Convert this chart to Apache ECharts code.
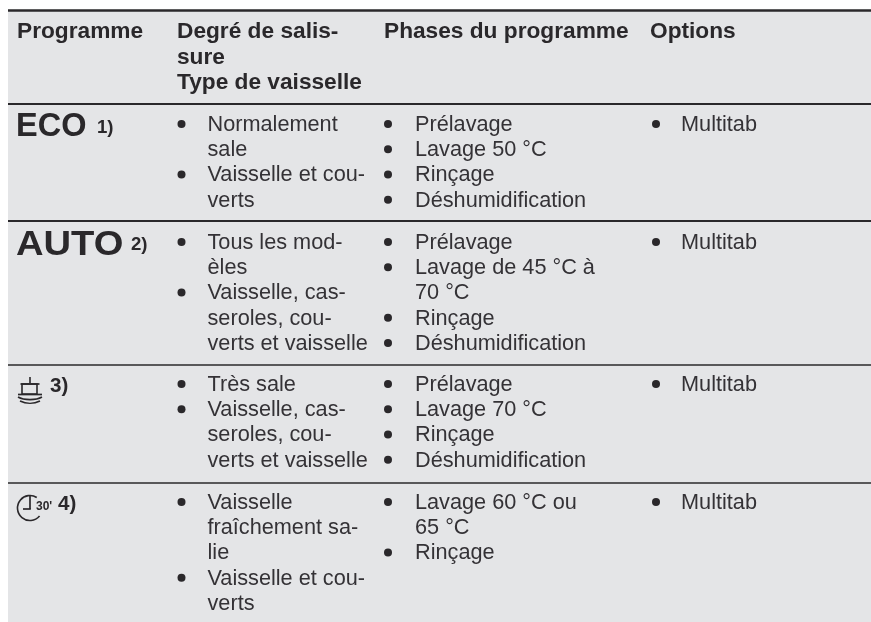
<!DOCTYPE html>
<html><head><meta charset="utf-8">
<style>html,body{margin:0;padding:0;background:#fff}#c{width:871px;height:622px}</style>
<script src="https://cdn.jsdelivr.net/npm/echarts@6/dist/echarts.min.js"></script></head>
<body><div id="c"></div>
<script>
// ---------- content ----------
const headers = [["Programme"], ["Degré de salis-", "sure", "Type de vaisselle"], ["Phases du programme"], ["Options"]];
const programmes = ["ECO", "AUTO", "", ""];
const notes = ["1)", "2)", "3)", "4)"];
const soiling = [
  [["Normalement", "sale"], ["Vaisselle et cou-", "verts"]],
  [["Tous les mod-", "èles"], ["Vaisselle, cas-", "seroles, cou-", "verts et vaisselle"]],
  [["Très sale"], ["Vaisselle, cas-", "seroles, cou-", "verts et vaisselle"]],
  [["Vaisselle", "fraîchement sa-", "lie"], ["Vaisselle et cou-", "verts"]]
];
const phases = [
  [["Prélavage"], ["Lavage 50 °C"], ["Rinçage"], ["Déshumidification"]],
  [["Prélavage"], ["Lavage de 45 °C à", "70 °C"], ["Rinçage"], ["Déshumidification"]],
  [["Prélavage"], ["Lavage 70 °C"], ["Rinçage"], ["Déshumidification"]],
  [["Lavage 60 °C ou", "65 °C"], ["Rinçage"]]
];
const options = [["Multitab"], ["Multitab"], ["Multitab"], ["Multitab"]];

// ---------- layout ----------
const W = 871, H = 622, INK = '#2a282b', SOFT = '#343236';
const ruleY = [10.5, 104, 221, 365, 483];
const firstLine = [125, 243, 385, 503];
const LH = 25.25;
const FS = 21.7, FB = 22.7;
const headX = [17, 177, 384, 650];
const cols = [{b: 181.5, t: 207.5}, {b: 388, t: 415}, {b: 656, t: 681}];
const font = 'Liberation Sans, Arial, sans-serif';

const items = [];
headers.forEach((lines, c) => lines.forEach((s, i) =>
  items.push({k: 'text', x: headX[c], y: 32 + i * LH, s, size: FB, weight: 'bold', fill: INK})));
function cell(r, col, list) {
  let n = 0;
  list.forEach(lines => {
    items.push({k: 'dot', x: col.b, y: firstLine[r] - 1 + n * LH});
    lines.forEach(s => { items.push({k: 'text', x: col.t, y: firstLine[r] + n * LH, s, size: FS, weight: 'normal', fill: SOFT}); n++; });
  });
}
soiling.forEach((l, r) => cell(r, cols[0], l));
phases.forEach((l, r) => cell(r, cols[1], l));
options.forEach((l, r) => cell(r, cols[2], [l]));
const progY = [127, 245];
const progSize = [33.5, 35];
const progStretch = [0.97, 1.09];
programmes.forEach((s, r) => { if (s) items.push({k: 'text', x: 16, y: progY[r], s, size: progSize[r], weight: 'bold', fill: INK, sx: progStretch[r]}); });
const noteX = [97, 131, 50, 58];
const noteY = [127.5, 245, 386.5, 504.5];
const noteSize = [18.6, 18.6, 20.6, 20.6];
notes.forEach((s, r) => items.push({k: 'text', x: noteX[r], y: noteY[r], s, size: noteSize[r], weight: 'bold', fill: INK}));
items.push({k: 'pot', x: 17, y: 375});
items.push({k: 'clock', x: 17, y: 493});
ruleY.forEach((y, i) => items.push({k: 'rule', y, w: i === 0 ? 2.5 : i === 3 || i === 4 ? 1.6 : 2}));

function renderItem(params, api) {
  const it = items[api.value(0)];
  const p = api.coord([it.x || 0, it.y || 0]);
  const line = (a, b, c, d, w) => ({type: 'line', shape: {x1: p[0] + a, y1: p[1] + b, x2: p[0] + c, y2: p[1] + d}, style: {stroke: INK, lineWidth: w || 1.7, fill: null}});
  const curve = (a, b, c, d, e) => ({type: 'bezierCurve', shape: {x1: p[0] + a, y1: p[1] + b, cpx1: p[0] + a + 6, cpy1: p[1] + e, cpx2: p[0] + c - 6, cpy2: p[1] + e, x2: p[0] + c, y2: p[1] + d}, style: {stroke: INK, lineWidth: 1.6, fill: null}});
  if (it.k === 'text') return {type: 'text', x: p[0], y: p[1], scaleX: it.sx || 1, style: {x: 0, y: 0, text: it.s, fill: it.fill, font: `${it.weight} ${it.size}px ${font}`, textAlign: 'left', textVerticalAlign: 'middle'}};
  if (it.k === 'dot') return {type: 'circle', shape: {cx: p[0], cy: p[1], r: 4}, style: {fill: INK}};
  if (it.k === 'rule') { const a = api.coord([8, it.y]), b = api.coord([W, it.y]); return {type: 'line', shape: {x1: a[0], y1: a[1], x2: b[0], y2: b[1]}, style: {stroke: INK, lineWidth: it.w}}; }
  if (it.k === 'pot') return {type: 'group', children: [
    {type: 'rect', shape: {x: p[0] + 5, y: p[1] + 9, width: 15, height: 10}, style: {stroke: INK, lineWidth: 1.6, fill: null}},
    line(3.5, 9, 22.5, 9), line(13, 2, 13, 8, 1.6), line(1, 19.5, 25, 19.5),
    curve(1, 22, 25, 22, 25.5), curve(3, 26, 23, 26, 29)
  ]};
  if (it.k === 'clock') return {type: 'group', children: [
    {type: 'arc', shape: {cx: p[0] + 13, cy: p[1] + 15, r: 12.5, startAngle: 0.7, endAngle: -1.0, clockwise: true}, style: {stroke: INK, lineWidth: 1.6, fill: null}},
    line(13, 2, 13, 16), line(6, 16, 13.8, 16),
    {type: 'text', style: {x: p[0] + 19, y: p[1] + 13.5, text: "30'", fill: INK, font: `bold 12px ${font}`, textVerticalAlign: 'middle'}}
  ]};
}

const chart = echarts.init(document.getElementById('c'), null, {renderer: 'canvas'});
chart.setOption({
  animation: false,
  backgroundColor: '#ffffff',
  grid: {left: 0, right: 0, top: 0, bottom: 0},
  xAxis: {type: 'value', min: 0, max: W, show: false},
  yAxis: {type: 'value', min: 0, max: H, inverse: true, show: false},
  graphic: [{type: 'rect', z: -1, shape: {x: 8, y: 10, width: W - 8, height: H - 10}, style: {fill: '#e4e5e7'}}],
  series: [{type: 'custom', coordinateSystem: 'cartesian2d', renderItem, silent: true,
    clip: false, data: items.map((_, i) => [i]), encode: {x: 0}}]
});
</script></body></html>
